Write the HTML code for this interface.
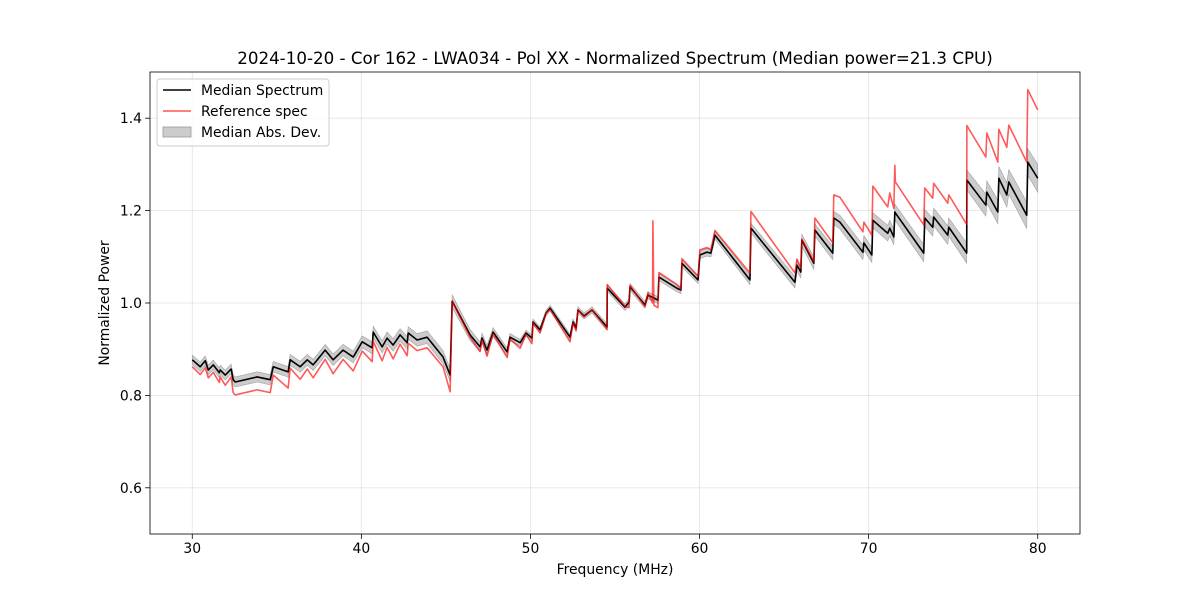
<!DOCTYPE html>
<html><head><meta charset="utf-8"><style>
html,body{margin:0;padding:0;background:#fff;}
svg{display:block;font-family:"DejaVu Sans","Liberation Sans",sans-serif;}
</style></head><body>
<svg id="chart" width="1200" height="600" viewBox="0 0 1200 600" xmlns="http://www.w3.org/2000/svg">
<rect x="0" y="0" width="1200" height="600" fill="#fff"/>
<text x="615" y="64" text-anchor="middle" font-size="16.7" fill="#000">2024-10-20 - Cor 162 - LWA034 - Pol XX - Normalized Spectrum (Median power=21.3 CPU)</text>
<g id="grid"></g>
<g id="marks"></g>
<g id="axes"></g>
<text x="615" y="574" text-anchor="middle" font-size="13.9">Frequency (MHz)</text>
<text x="0" y="0" transform="translate(109,303) rotate(-90)" text-anchor="middle" font-size="13.9">Normalized Power</text>
<g>
<rect x="157" y="79" width="172" height="67" rx="3" fill="#fff" fill-opacity="0.8" stroke="#ccc"/>
<g>
<line x1="163" y1="90" x2="191" y2="90" stroke="#000" stroke-width="1.5"/>
<text x="201" y="95" font-size="13.9">Median Spectrum</text></g>
<g>
<line x1="163" y1="111" x2="191" y2="111" stroke="#ff5555" stroke-width="1.5"/>
<text x="201" y="116" font-size="13.9">Reference spec</text></g>
<g>
<rect x="163" y="127" width="28" height="10" fill="#bfbfbf" fill-opacity="0.8" stroke="#999" stroke-width="0.8"/>
<text x="201" y="137" font-size="13.9">Median Abs. Dev.</text></g>
</g>
</svg>
<script>
const freqs=[30.00,30.47,30.77,30.95,31.24,31.60,31.65,31.95,32.30,32.42,32.54,33.84,34.61,34.79,35.67,35.79,36.38,36.80,37.15,37.86,38.33,38.92,39.52,40.05,40.64,40.70,41.23,41.52,41.88,42.29,42.71,42.77,43.30,43.89,44.83,45.25,45.37,46.43,47.02,47.14,47.43,47.79,48.62,48.79,49.39,49.74,50.09,50.15,50.57,50.92,51.16,52.34,52.52,52.70,52.81,53.17,53.64,54.53,54.54,55.59,55.83,55.89,56.77,56.95,57.22,57.24,57.30,57.54,57.60,58.66,58.90,58.96,59.91,60.02,60.44,60.67,60.91,62.98,63.04,65.64,65.76,65.99,66.05,66.76,66.82,67.88,67.94,68.30,69.66,69.72,70.19,70.25,71.13,71.25,71.49,71.55,71.58,73.26,73.32,73.79,73.85,74.68,74.74,75.80,75.81,76.93,76.99,77.64,77.70,78.17,78.29,79.35,79.41,80.00];
const medianValues=[.877,.862,.875,.855,.866,.849,.855,.844,.857,.834,.829,.840,.834,.862,.851,.877,.862,.877,.866,.898,.877,.898,.883,.916,.903,.937,.905,.924,.909,.931,.914,.935,.920,.926,.883,.844,1.004,.931,.905,.924,.898,.937,.894,.926,.914,.935,.924,.959,.942,.978,.989,.926,.959,.946,.985,.972,.985,.948,1.032,.991,1.002,1.035,.996,1.017,1.012,1.012,1.011,1.006,1.056,1.032,1.028,1.086,1.050,1.104,1.110,1.108,1.147,1.050,1.162,1.045,1.082,1.067,1.136,1.086,1.158,1.108,1.184,1.175,1.110,1.130,1.104,1.179,1.151,1.162,1.143,1.197,1.195,1.108,1.184,1.164,1.186,1.147,1.164,1.108,1.266,1.212,1.240,1.197,1.270,1.234,1.262,1.190,1.305,1.270];
const referenceValues=[.862,.845,.860,.838,.850,.828,.840,.822,.840,.806,.801,.812,.806,.844,.816,.859,.835,.857,.838,.878,.847,.878,.853,.896,.873,.917,.875,.904,.879,.911,.886,.913,.897,.903,.862,.808,1.004,.926,.895,.920,.885,.933,.882,.922,.902,.932,.912,.957,.935,.978,.986,.916,.957,.940,.985,.970,.985,.943,1.040,.993,.990,1.038,.992,1.022,1.000,1.178,.995,.990,1.066,1.040,1.030,1.096,1.058,1.115,1.120,1.115,1.157,1.065,1.198,1.065,1.095,1.075,1.138,1.090,1.184,1.130,1.234,1.229,1.154,1.175,1.147,1.253,1.208,1.238,1.205,1.298,1.262,1.169,1.249,1.227,1.259,1.216,1.234,1.170,1.384,1.316,1.368,1.305,1.376,1.337,1.385,1.305,1.462,1.418];
const madFreqs=[30,45,50,60,70,75,80];
const madValues=[0.010,0.014,0.006,0.008,0.016,0.020,0.030];
const xTicks=[30,40,50,60,70,80];
const yTicks=[0.6,0.8,1.0,1.2,1.4];
const yTickLabels=["0.6","0.8","1.0","1.2","1.4"];

const L=150,R=1080,T=72,B=534;
const xMin=27.5,xMax=82.5,yMin=0.5,yMax=1.5;
const X=f=>L+(f-xMin)/(xMax-xMin)*(R-L);
const Y=v=>B-(v-yMin)/(yMax-yMin)*(B-T);
const NS="http://www.w3.org/2000/svg";
function mk(tag,attrs,parent){const e=document.createElementNS(NS,tag);for(const k in attrs)e.setAttribute(k,attrs[k]);parent.appendChild(e);return e;}
function mad(f){for(let i=0;i<madFreqs.length-1;i++){if(f<=madFreqs[i+1]){const t=(f-madFreqs[i])/(madFreqs[i+1]-madFreqs[i]);return madValues[i]+t*(madValues[i+1]-madValues[i]);}}return madValues[madValues.length-1];}

const grid=document.getElementById('grid'),marks=document.getElementById('marks'),axes=document.getElementById('axes');
xTicks.forEach(t=>{const g=mk('line',{x1:X(t),x2:X(t),y1:T,y2:B,stroke:'#b0b0b0','stroke-opacity':0.35,'stroke-width':0.8},grid);

});
yTicks.forEach(t=>{const g=mk('line',{x1:L,x2:R,y1:Y(t),y2:Y(t),stroke:'#b0b0b0','stroke-opacity':0.35,'stroke-width':0.8},grid);

});

// MAD band
let up=freqs.map((f,i)=>X(f)+','+Y(medianValues[i]+mad(f)));
let dn=freqs.map((f,i)=>X(f)+','+Y(medianValues[i]-mad(f))).reverse();
const band=mk('polygon',{points:up.concat(dn).join(' '),fill:'#bfbfbf','fill-opacity':0.8,stroke:'#a0a0a0','stroke-width':0.6},marks);


const med=mk('polyline',{points:freqs.map((f,i)=>X(f)+','+Y(medianValues[i])).join(' '),fill:'none',stroke:'#000','stroke-width':1.6,'stroke-linejoin':'round'},marks);


const ref=mk('polyline',{points:freqs.map((f,i)=>X(f)+','+Y(referenceValues[i])).join(' '),fill:'none',stroke:'#ff0000','stroke-opacity':0.65,'stroke-width':1.6,'stroke-linejoin':'round'},marks);



const frame=mk('rect',{x:L,y:T,width:R-L,height:B-T,fill:'none',stroke:'#000','stroke-width':0.8},axes);


xTicks.forEach(t=>{mk('line',{x1:X(t),x2:X(t),y1:B,y2:B+4.9,stroke:'#000','stroke-width':0.8},axes);
const tx=mk('text',{x:X(t),y:B+19,'text-anchor':'middle','font-size':13.9},axes);tx.textContent=String(t);

});
yTicks.forEach((t,i)=>{mk('line',{x1:L-4.9,x2:L,y1:Y(t),y2:Y(t),stroke:'#000','stroke-width':0.8},axes);
const tx=mk('text',{x:L-8,y:Y(t)+5,'text-anchor':'end','font-size':13.9},axes);tx.textContent=yTickLabels[i];

});
</script>
</body></html>
